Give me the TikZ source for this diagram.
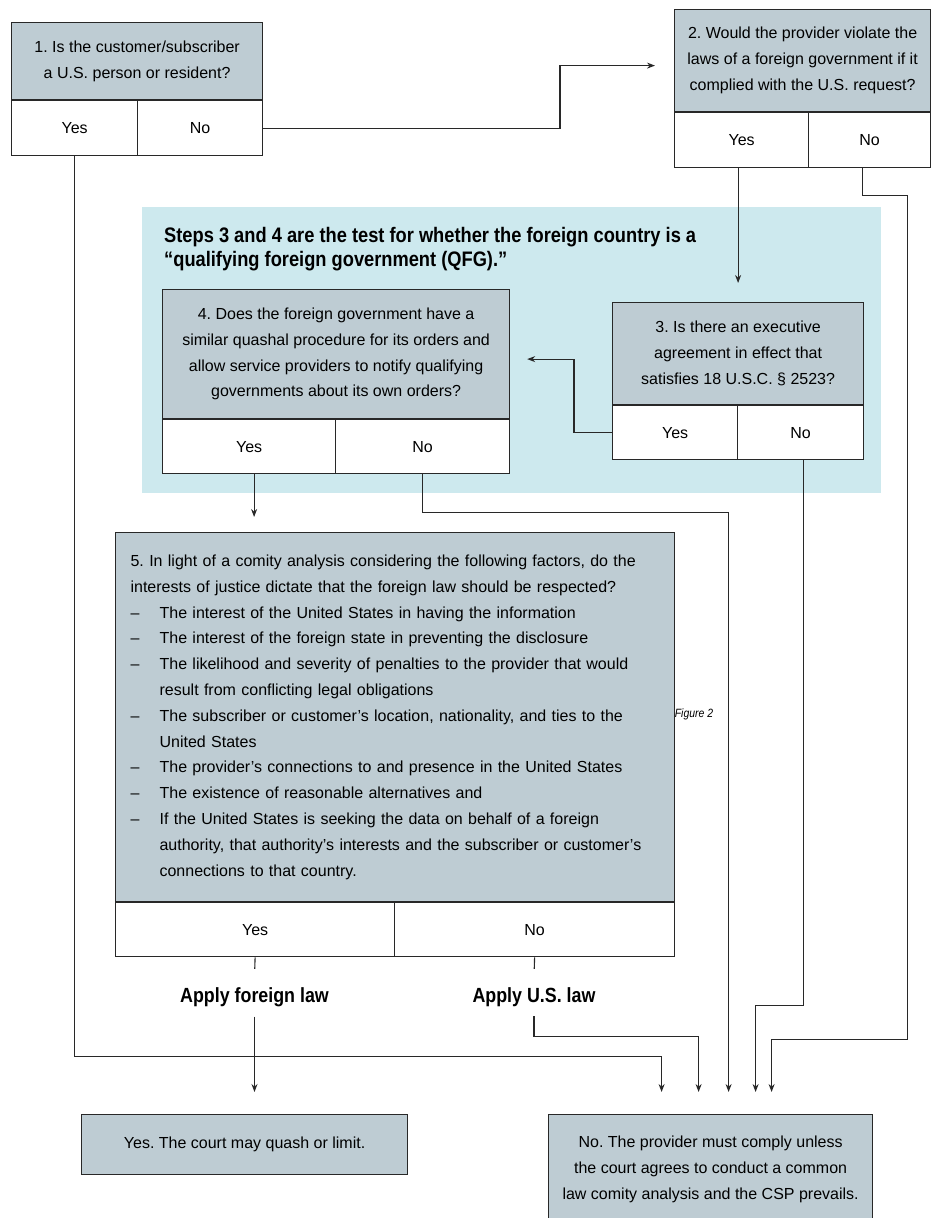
\documentclass[tikz,border=0pt]{standalone}
\usepackage{fontspec}
\setmainfont{Liberation Sans}
\newfontfamily\condfont{Liberation Sans}[FakeStretch=0.87]
\usetikzlibrary{arrows.meta}
\definecolor{qgray}{RGB}{190,204,211}
\definecolor{qfgband}{RGB}{205,233,238}
\definecolor{edge}{RGB}{40,40,40}
\frenchspacing

\begin{document}
\begin{tikzpicture}[x=1pt,y=-1pt,
  txt/.style={font=\fontsize{16}{25.8}\selectfont, text=black},
  question/.style={draw=edge, line width=1.2pt, fill=qgray, anchor=north west,
                   inner sep=0pt, align=center, txt},
  answer/.style={draw=edge, line width=1.2pt, fill=white, inner sep=0pt, txt},
  wire/.style={draw=edge, line width=1.1pt},
  arr/.style={wire, -{Stealth[length=8pt,width=6pt]}},
  verdict/.style={font=\condfont\bfseries\fontsize{20.5}{24}\selectfont,
                  inner xsep=0pt, inner ysep=10pt, anchor=base}
]
\useasboundingbox (0,0) rectangle (931,1218);

% band holding steps 3 and 4
\node[fill=qfgband, minimum width=739pt, minimum height=286pt, anchor=north west,
      inner sep=0pt] (band) at (142,207) {};
\node[anchor=north west, inner sep=0pt, align=left,
      font=\condfont\bfseries\fontsize{21}{24}\selectfont] (bandtitle) at (164,227)
  {Steps 3 and 4 are the test for whether the foreign country is a\\“qualifying foreign government (QFG).”};

% step 1
\node[question, minimum width=251pt, minimum height=77pt] (q1) at (11,22)
  {1. Is the customer/subscriber\\a U.S. person or resident?};
\node[answer, minimum width=126pt, minimum height=55pt, anchor=north west] (q1y) at (q1.south west) {Yes};
\node[answer, minimum width=125pt, minimum height=55pt, anchor=north east] (q1n) at (q1.south east) {No};

% step 2
\node[question, minimum width=256pt, minimum height=102pt] (q2) at (674,9)
  {2. Would the provider violate the\\laws of a foreign government if it\\complied with the U.S. request?};
\node[answer, minimum width=134pt, minimum height=55pt, anchor=north west] (q2y) at (q2.south west) {Yes};
\node[answer, minimum width=122pt, minimum height=55pt, anchor=north east] (q2n) at (q2.south east) {No};

% step 3
\node[question, minimum width=251pt, minimum height=102pt] (q3) at (612,302)
  {3. Is there an executive\\agreement in effect that\\satisfies 18 U.S.C. § 2523?};
\node[answer, minimum width=125pt, minimum height=54pt, anchor=north west] (q3y) at (q3.south west) {Yes};
\node[answer, minimum width=126pt, minimum height=54pt, anchor=north east] (q3n) at (q3.south east) {No};

% step 4
\node[question, minimum width=347pt, minimum height=129pt] (q4) at (162,289)
  {4. Does the foreign government have a\\similar quashal procedure for its orders and\\allow service providers to notify qualifying\\governments about its own orders?};
\node[answer, minimum width=173pt, minimum height=54pt, anchor=north west] (q4y) at (q4.south west) {Yes};
\node[answer, minimum width=174pt, minimum height=54pt, anchor=north east] (q4n) at (q4.south east) {No};

% step 5
\node[question, minimum width=559pt, minimum height=369pt, align=left,
      inner xsep=15pt, text width=529pt] (q5) at (115,532)
  {5. In light of a comity analysis considering the following factors, do the\\
   interests of justice dictate that the foreign law should be respected?\\
   \makebox[29pt][l]{–}The interest of the United States in having the information\\
   \makebox[29pt][l]{–}The interest of the foreign state in preventing the disclosure\\
   \makebox[29pt][l]{–}The likelihood and severity of penalties to the provider that would\\
   \hspace*{29pt}result from conflicting legal obligations\\
   \makebox[29pt][l]{–}The subscriber or customer's location, nationality, and ties to the\\
   \hspace*{29pt}United States\\
   \makebox[29pt][l]{–}The provider's connections to and presence in the United States\\
   \makebox[29pt][l]{–}The existence of reasonable alternatives and\\
   \makebox[29pt][l]{–}If the United States is seeking the data on behalf of a foreign\\
   \hspace*{29pt}authority, that authority's interests and the subscriber or customer's\\
   \hspace*{29pt}connections to that country.};
\node[answer, minimum width=279pt, minimum height=54pt, anchor=north west] (q5y) at (q5.south west) {Yes};
\node[answer, minimum width=280pt, minimum height=54pt, anchor=north east] (q5n) at (q5.south east) {No};

\node[font=\condfont\itshape\fontsize{12}{14}\selectfont, inner sep=0pt] (figlabel) at (694,714) {Figure 2};

% outcomes of step 5
\node[verdict] (foreign) at (254.5,1002) {Apply foreign law};
\node[verdict] (usl) at (534,1002) {Apply U.S. law};

% final answers
\node[question, minimum width=326pt, minimum height=60pt] (yesbox) at (81,1114)
  {Yes. The court may quash or limit.};
\node[question, minimum width=324pt, minimum height=110pt] (nobox) at (548,1114)
  {No. The provider must comply unless\\the court agrees to conduct a common\\law comity analysis and the CSP prevails.};

\coordinate (in1) at ([xshift=-49pt]nobox.north);
\coordinate (in2) at ([xshift=-12pt]nobox.north);
\coordinate (in3) at ([xshift=18pt]nobox.north);
\coordinate (in4) at ([xshift=45pt]nobox.north);
\coordinate (in5) at ([xshift=61pt]nobox.north);

% connectors
\draw[arr, shorten >=19pt] (q1n.east) -| ([xshift=-114pt,yshift=-5pt]q2.west) -- ([yshift=-5pt]q2.west);
\draw[arr, shorten >=19pt] (q3.north |- q2y.south) -- (q3.north);
\draw[arr, shorten >=22pt] ([xshift=-7pt]q2n.south) -- ++(0,27) -- ++(45,0) -- ++(0,844) -| (in5);
\draw[arr, shorten >=17pt] (q3y.west) -- ++(-38,0) |- ([yshift=-5pt]q4.east);
\draw[arr, shorten >=22pt] ([xshift=3pt]q3n.south) -- ++(0,545) -| (in4);
\draw[arr, shorten >=15pt] ([xshift=5pt]q4y.south) -- ([xshift=5pt]q4y.south |- q5.north);
\draw[arr, shorten >=22pt] (q4n.south) -- ++(0,38) -| (in3);
\draw[wire, shorten >=8pt] (q5y.south) -- (foreign.north);
\draw[wire, shorten >=8pt] (q5n.south) -- (usl.north);
\draw[arr, shorten >=22pt] (foreign.south) -- (foreign.south |- yesbox.north);
\draw[arr, shorten >=22pt] (usl.south) -- ++(0,20) -| (in2);
\draw[arr, shorten >=22pt] (q1y.south) -- ++(0,900) -| (in1);
\end{tikzpicture}
\end{document}
